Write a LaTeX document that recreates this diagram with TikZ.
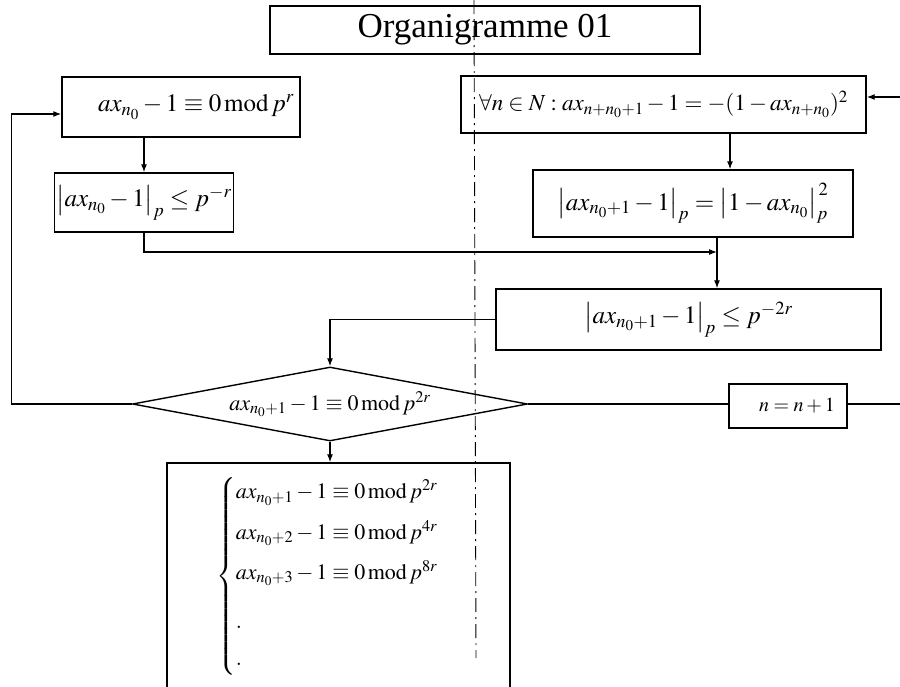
\documentclass[tikz,border=0pt]{standalone}
\usepackage{amsmath}
\usepackage{mathptmx}
\usepackage[no-math]{fontspec}
\setmainfont{Liberation Serif}
\usetikzlibrary{arrows.meta,shapes.geometric,calc}

\begin{document}
\begin{tikzpicture}[
  x=1pt, y=-1pt,
  box/.style  ={draw, line width=1.4pt, inner sep=2pt,
                font=\fontsize{25}{30}\selectfont},
  test/.style ={draw, diamond, line width=1.4pt, inner sep=0pt, shape aspect=5.3,
                minimum width=395pt, minimum height=74pt,
                font=\fontsize{22}{26}\selectfont},
  flow/.style ={-{Latex[length=8pt,width=6pt]}, line width=1.2pt},
  link/.style ={line width=1.2pt},
  axis/.style ={line width=0.9pt, dash pattern=on 14pt off 5pt on 2pt off 5pt},
]
\useasboundingbox (0,0) rectangle (900,686);
\clip (0,0) rectangle (900,686);

% title and the dash-dot axis
\node[box, minimum width=430pt, minimum height=48pt, font=\fontsize{35}{40}\selectfont]
  (title) at (485,30) {Organigramme 01\hspace{70pt}};
\coordinate (axtop) at (474,0);
\coordinate (axbot) at (476,658);
\draw[axis] (axtop) -- (axbot);

% left column
\node[box, minimum width=238pt, minimum height=60pt] (start) at (181,107)
  {\hspace{30pt}$ax_{n_0}-1\equiv 0\,\mathrm{mod}\,p^{r}$};
\node[box, minimum width=158pt, minimum height=59pt] (norm) at (144,202.5)
  {$\bigl|ax_{n_0}-1\bigr|_p\le p^{-r}$};

% right column
\node[box, minimum width=405pt, minimum height=57pt, font=\fontsize{23}{28}\selectfont]
  (rec) at (663.5,104.5)
  {$\forall n\in N: ax_{n+n_0+1}-1=-(1-ax_{n+n_0})^2$};
\node[box, minimum width=320pt, minimum height=67pt] (recnorm) at (693,203.5)
  {$\bigl|ax_{n_0+1}-1\bigr|_p=\bigl|1-ax_{n_0}\bigr|_p^{\,2}$};
\node[box, minimum width=385pt, minimum height=61pt] (bound) at (688.5,319.5)
  {$\bigl|ax_{n_0+1}-1\bigr|_p\le p^{-2r}$\hspace{40pt}};

% decision, increment and result
\node[test] (dec) at (330,404) {$ax_{n_0+1}-1\equiv 0\,\mathrm{mod}\,p^{2r}$};
\node[box, minimum width=118pt, minimum height=44pt, font=\fontsize{20}{24}\selectfont]
  (incr) at (788,406) {\hspace{18pt}$n=n+1$};
\node[box, minimum width=343pt, minimum height=226pt, font=\fontsize{22}{26}\selectfont]
  (res) at (338.5,576)
  {$\begin{cases}
     ax_{n_0+1}-1\equiv 0\,\mathrm{mod}\,p^{2r}\\[9pt]
     ax_{n_0+2}-1\equiv 0\,\mathrm{mod}\,p^{4r}\\[9pt]
     ax_{n_0+3}-1\equiv 0\,\mathrm{mod}\,p^{8r}\\[18pt]
     .\\[6pt]
     .
   \end{cases}$\hspace{14pt}};

\coordinate (join) at (717,252);
\coordinate (rimlow) at (900,404);
\coordinate (rimtop) at (900,97);

\draw[flow] (norm.south |- start.south) -- (norm.north);
\draw[flow] (norm.south) |- (join);
\draw[flow] (recnorm.south -| join) -- (bound.north -| join);
\draw[flow] ([xshift=37pt]recnorm.north |- rec.south) -- ([xshift=37pt]recnorm.north);
\draw[flow] (bound.west) -| (dec.north);
\draw[flow] (dec.south) -- (dec.south |- res.north);
\draw[flow] (dec.west) -- ++(-120,0) |- ([yshift=-7pt]start.west);
\draw[link] (dec.east) -- (dec.east -| incr.west);
\draw[link] (rimlow -| incr.east) -- (rimlow);
\draw[flow] (rimtop) -- (rimtop -| rec.east);

\end{tikzpicture}
\end{document}
